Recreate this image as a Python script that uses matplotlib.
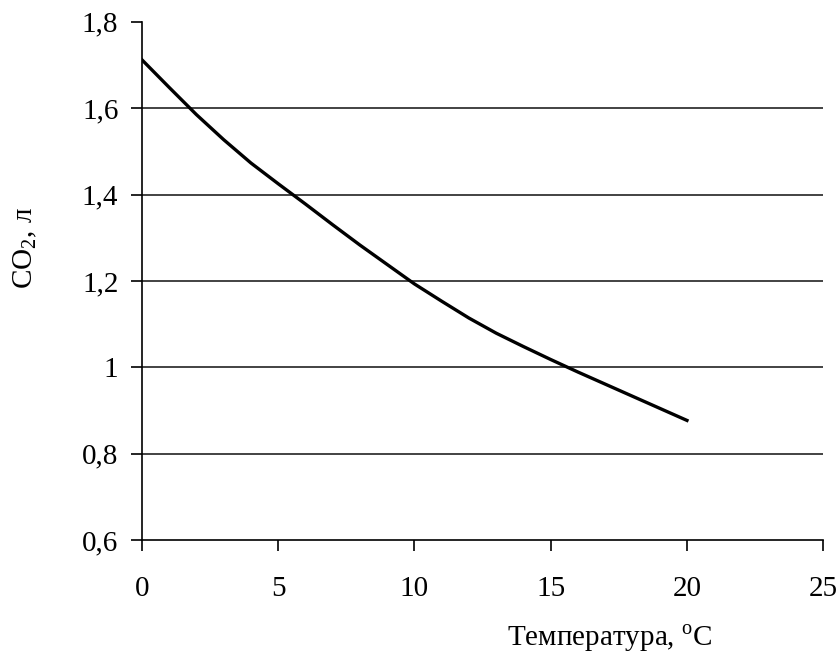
import matplotlib
matplotlib.use("Agg")
import matplotlib.pyplot as plt

temperature = [0, 1, 2, 3, 4, 5, 6, 7, 8, 9, 10, 11, 12, 13, 14, 15, 16, 17, 18, 19, 20]
co2 = [1.712, 1.648, 1.585, 1.527, 1.473, 1.425, 1.378, 1.33, 1.283, 1.238, 1.193,
       1.153, 1.114, 1.079, 1.048, 1.018, 0.989, 0.961, 0.933, 0.905, 0.877]
x_ticks = [0, 5, 10, 15, 20, 25]
y_ticks = [0.6, 0.8, 1.0, 1.2, 1.4, 1.6, 1.8]
y_tick_labels = ["0,6", "0,8", "1", "1,2", "1,4", "1,6", "1,8"]

plt.rcParams['font.family'] = ['Liberation Serif', 'DejaVu Serif']
plt.rcParams['mathtext.fontset'] = 'custom'
plt.rcParams['mathtext.rm'] = 'Liberation Serif'

fig = plt.figure(figsize=(8.4, 6.61), dpi=100)
ax = fig.add_axes([0.169, 0.183, 0.811, 0.784])

for yv in y_ticks[1:-1]:
    ax.axhline(yv, color='#222222', lw=1.2, zorder=1)

ax.plot(temperature, co2, color='black', lw=2.4, zorder=3)

ax.set_xlim(0, 25)
ax.set_ylim(0.6, 1.8)
ax.set_xticks(x_ticks)
ax.set_yticks(y_ticks)
ax.set_yticklabels(y_tick_labels)
ax.tick_params(axis='both', direction='out', length=8, width=1.2, labelsize=21, colors='black')
ax.tick_params(axis='x', pad=18)
ax.tick_params(axis='y', pad=9)
for s in ['top', 'right']:
    ax.spines[s].set_visible(False)
for s in ['left', 'bottom']:
    ax.spines[s].set_linewidth(1.2)
    ax.spines[s].set_color('black')
ax.spines['left'].set_zorder(4)

fig.text(0.848, 0.035, r"Температура, $^{\rm o}$C", ha='right', va='center', fontsize=21)
fig.text(0.03, 0.625, r"CO$_2$, л", ha='center', va='center', rotation=90, fontsize=21)

fig.savefig("out.png", dpi=100)
